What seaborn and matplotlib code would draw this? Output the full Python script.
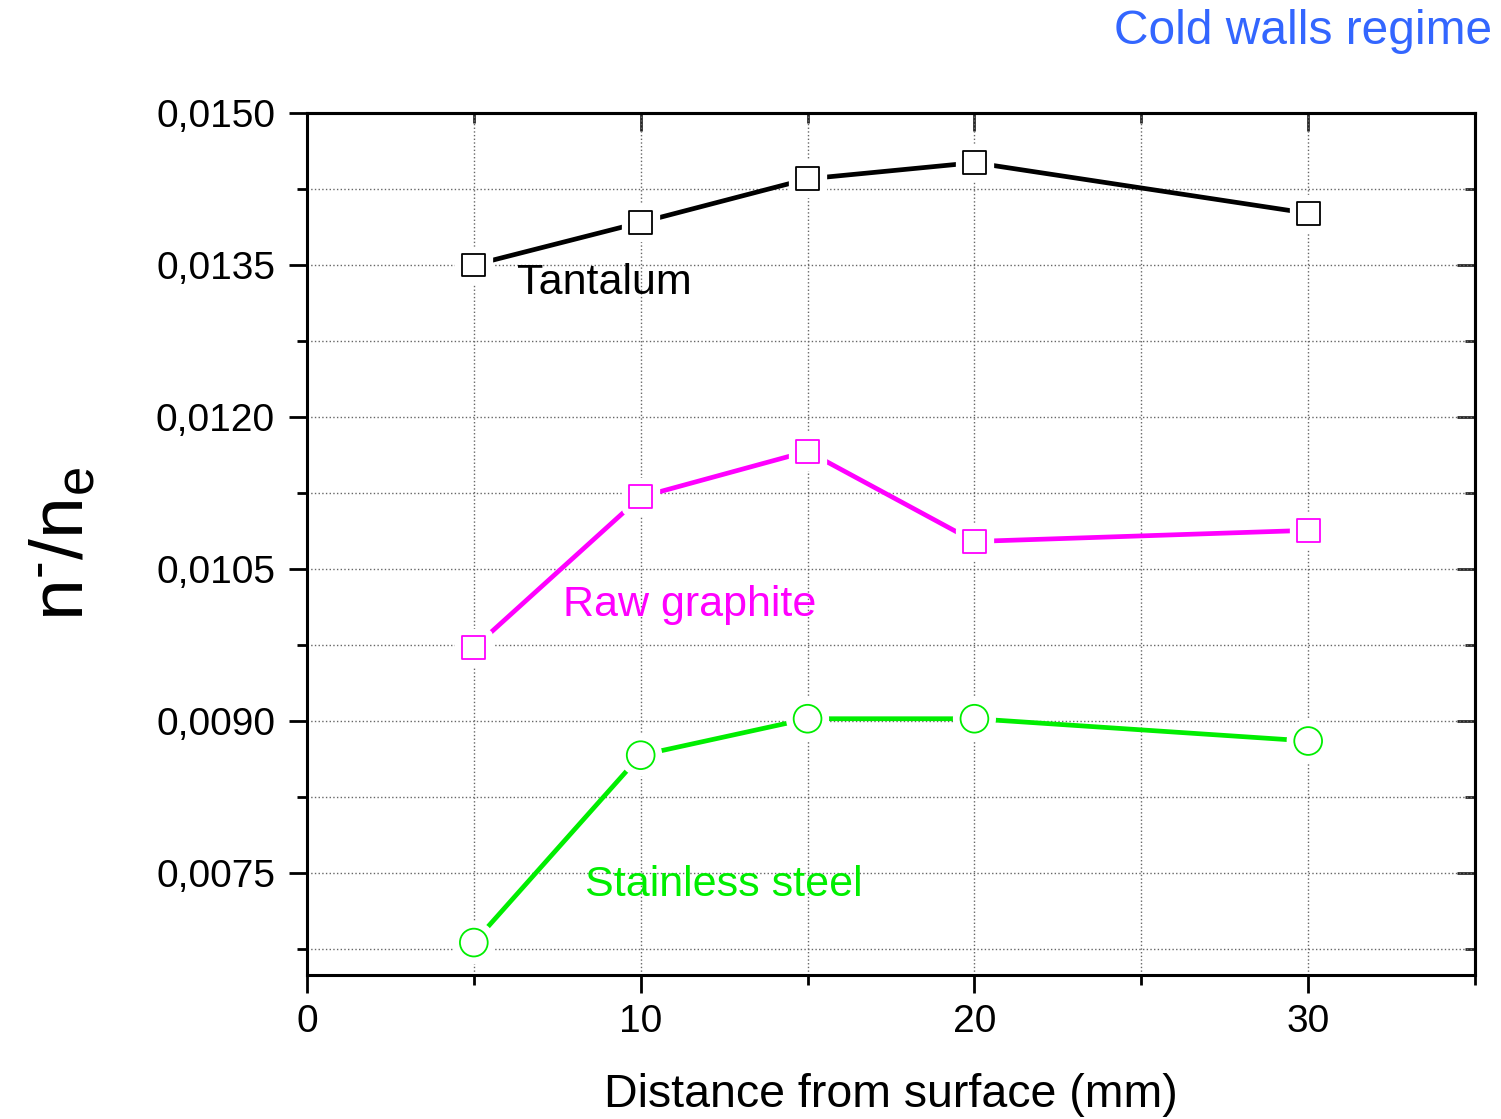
import matplotlib
matplotlib.use("Agg")
import matplotlib.pyplot as plt
import matplotlib.patheffects as pe
from matplotlib.ticker import MultipleLocator, FuncFormatter
import seaborn as sns
import pandas as pd

# Distance from surface (mm)
distance = [5, 10, 15, 20, 30]

# n-/ne ratio for each wall material
tantalum = [0.01350, 0.01392, 0.01435, 0.01451, 0.01401]
raw_graphite = [0.00972, 0.01121, 0.01166, 0.01077, 0.01088]
stainless_steel = [0.00681, 0.00866, 0.00902, 0.00902, 0.00880]

series_names = ["Tantalum", "Raw graphite", "Stainless steel"]
series_values = [tantalum, raw_graphite, stainless_steel]
series_colors = ["#000000", "#FF00FF", "#00EE00"]
series_markers = ["s", "s", "o"]

sns.set_theme(style="white")
plt.rcParams["font.family"] = ["Liberation Sans", "DejaVu Sans"]
plt.rcParams["mathtext.fontset"] = "custom"
plt.rcParams["mathtext.rm"] = "Liberation Sans"
plt.rcParams["mathtext.it"] = "Liberation Sans"

fig = plt.figure(figsize=(15.01, 11.19), dpi=100)
ax = fig.add_axes([0.2045, 0.1287, 0.7782, 0.7703])

for name, vals, col, mk in zip(series_names, series_values, series_colors, series_markers):
    df = pd.DataFrame({"distance": distance, "ratio": vals})
    sns.lineplot(data=df, x="distance", y="ratio", color=col, lw=3.4, ax=ax,
                 zorder=3, legend=False)
    size = 270 if mk == "s" else 400
    sc = ax.scatter(df["distance"], df["ratio"], marker=mk, s=size,
                    facecolor="white", edgecolor=col, linewidth=1.3, zorder=4)
    sc.set_path_effects([pe.Stroke(linewidth=11, foreground="white"), pe.Normal()])

ax.set_xlim(0, 35)
ax.set_ylim(0.00649, 0.0150)

ax.xaxis.set_major_locator(MultipleLocator(10))
ax.xaxis.set_minor_locator(MultipleLocator(5))
ax.yaxis.set_major_locator(MultipleLocator(0.0015))
ax.yaxis.set_minor_locator(MultipleLocator(0.00075))
ax.yaxis.set_major_formatter(FuncFormatter(lambda v, p: f"{v:.4f}".replace(".", ",")))
ax.xaxis.set_major_formatter(FuncFormatter(lambda v, p: f"{v:.0f}"))

ax.grid(True, which="both", linestyle=":", color="#666666", linewidth=1.0)
ax.set_axisbelow(True)

for sp in ax.spines.values():
    sp.set_visible(True)
    sp.set_color("black")
    sp.set_linewidth(2.2)

ax.tick_params(axis="both", which="major", direction="out", length=13, width=2.0,
               labelsize=28, color="black", labelcolor="black")
ax.tick_params(axis="both", which="minor", direction="out", length=7, width=2.0,
               color="black")
ax.tick_params(axis="x", which="both", bottom=True, top=False, pad=8)
ax.tick_params(axis="y", which="both", left=True, right=False, pad=10)

# Mirrored inward ticks on the top and right edges
top = ax.secondary_xaxis("top")
top.xaxis.set_major_locator(MultipleLocator(10))
top.xaxis.set_minor_locator(MultipleLocator(5))
top.tick_params(which="major", direction="in", length=13, width=2.0, labeltop=False)
top.tick_params(which="minor", direction="in", length=7, width=2.0)
top.spines["top"].set_linewidth(2.2)
right = ax.secondary_yaxis("right")
right.yaxis.set_major_locator(MultipleLocator(0.0015))
right.yaxis.set_minor_locator(MultipleLocator(0.00075))
right.tick_params(which="major", direction="in", length=13, width=2.0, labelright=False)
right.tick_params(which="minor", direction="in", length=7, width=2.0)
right.spines["right"].set_linewidth(2.2)

ax.set_xlabel("Distance from surface (mm)", fontsize=33.5, labelpad=24, color="black")
ax.set_ylabel(r"$\mathregular{n^{\text{-}}/n_{e}}$", fontsize=54, labelpad=42, color="black")

ax.text(6.3, 0.013322, "Tantalum", color="#000000", fontsize=31, va="center", ha="left")
ax.text(7.67, 0.010145, "Raw graphite", color="#FF00FF", fontsize=31, va="center", ha="left")
ax.text(8.33, 0.007382, "Stainless steel", color="#00EE00", fontsize=31, va="center", ha="left")

fig.text(0.994, 0.972, "Cold walls regime", color="#3366FF", fontsize=34.5,
         ha="right", va="center")

fig.savefig("out.png", dpi=100, facecolor="white")
